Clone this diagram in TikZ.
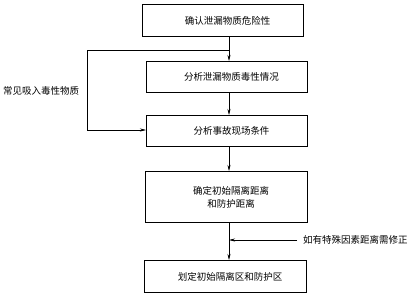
\documentclass[tikz,border=0pt]{standalone}
\usepackage{fontspec}
\newfontfamily\cjk{Noto Sans CJK SC}
\usetikzlibrary{arrows.meta}
\newcommand{\shl}{\hspace*{9pt}}
\begin{document}
\begin{tikzpicture}[x=1pt,y=-1pt,
  box/.style={draw,line width=1pt,minimum width=161pt,anchor=north west,inner sep=0pt,font=\cjk\fontsize{9.5}{13}\selectfont,align=center},
  lbl/.style={font=\cjk\fontsize{9.5}{12}\selectfont,inner sep=0pt},
  arr/.style={-{Stealth[length=6pt,width=3pt]},line width=0.6pt},
  ln/.style={line width=0.6pt}]
\useasboundingbox (0,0) rectangle (413,297);
\node[box,minimum height=32pt] (b1) at (142,4) {\shl 确认泄漏物质危险性};
\node[box,minimum height=31pt] (b2) at (146,61) {\shl 分析泄漏物质毒性情况};
\node[box,minimum height=31pt] (b3) at (146,115) {\shl 分析事故现场条件};
\node[box,minimum height=51pt,minimum width=162pt] (b4) at (145,171) {\shl 确定初始隔离距离\\\shl 和防护距离};
\node[box,minimum height=32pt,minimum width=162pt] (b5) at (144,260) {\shl 划定初始隔离区和防护区};
\coordinate (j) at (229,50);
\coordinate (c1) at (87,50);
\coordinate (c2) at (87,130);
\coordinate (r) at (297,240);
\coordinate (rj) at (229,240);
\draw[arr] (b1.south -| j) -- (b2.north -| j);
\draw[ln] (j) -- (c1) -- (c2);
\draw[arr] (c2) -- (b3.west |- c2);
\draw[arr] (b2.south -| j) -- (b3.north -| j);
\draw[arr] (b3.south -| j) -- (b4.north -| j);
\draw[arr] (b4.south -| j) -- (b5.north -| j);
\draw[arr] (r) -- (rj);
\node[lbl,anchor=west] (l1) at (3,91) {常见吸入毒性物质};
\node[lbl,anchor=west] (l2) at (303,240) {如有特殊因素距离需修正};
\end{tikzpicture}
\end{document}
